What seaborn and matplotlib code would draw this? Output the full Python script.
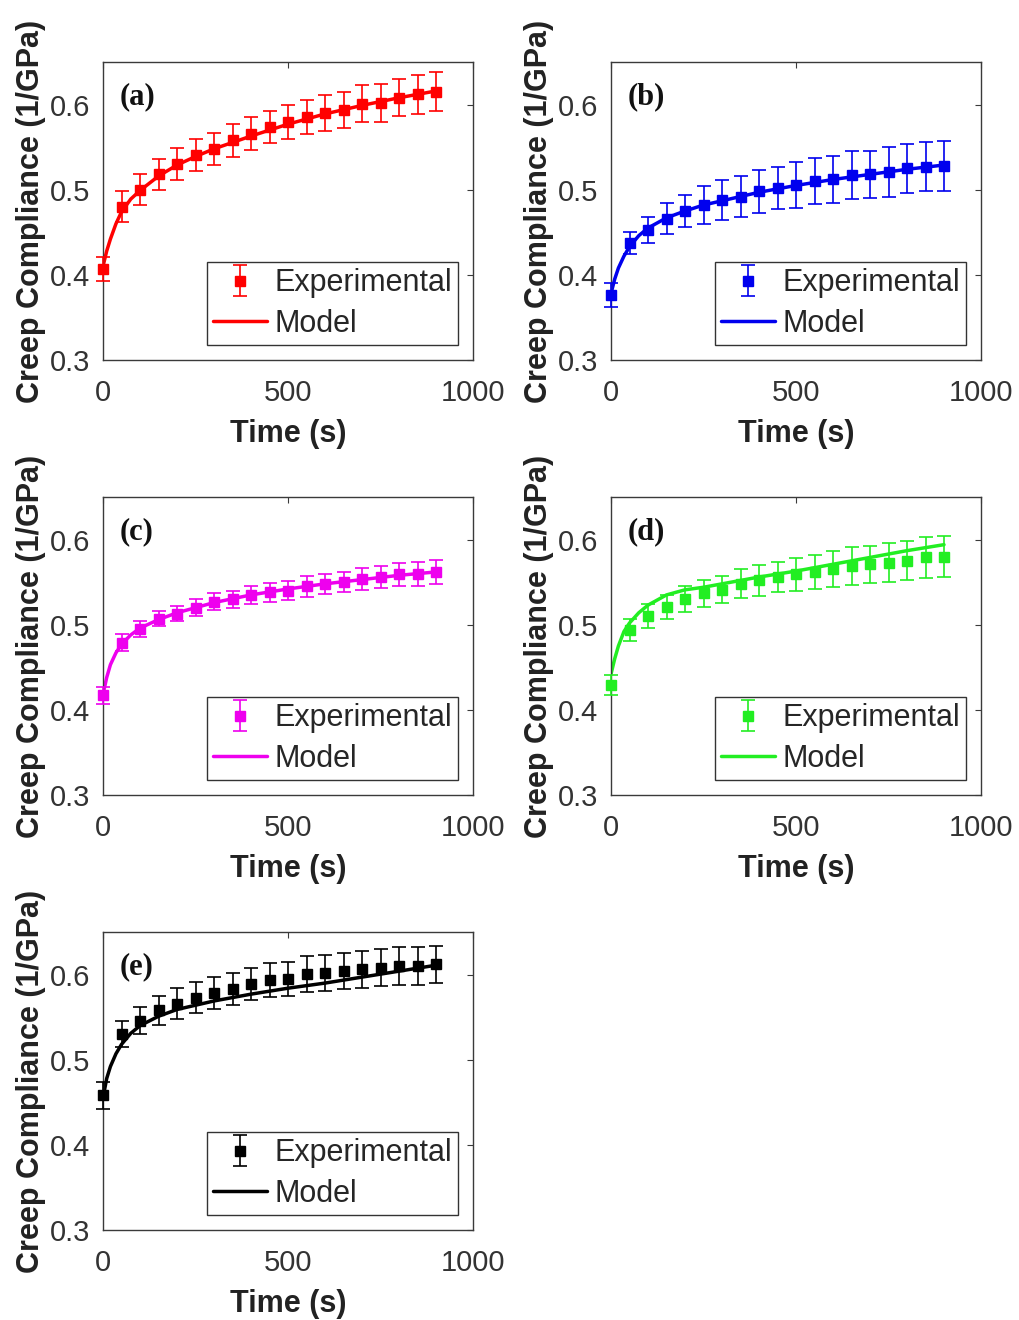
import numpy as np
import pandas as pd
import matplotlib
matplotlib.use("Agg")
import matplotlib.pyplot as plt
import seaborn as sns

# ---------------- data ----------------
time_exp = [0, 50, 100, 150, 200, 250, 300, 350, 400, 450, 500,
            550, 600, 650, 700, 750, 800, 850, 900]
time_model = [0, 10, 20, 35, 50, 75, 100, 150, 200, 250, 300,
              400, 500, 600, 700, 800, 900]

exp_a = [0.407, 0.480, 0.500, 0.518, 0.530, 0.541, 0.548, 0.558, 0.566, 0.574,
         0.580, 0.585, 0.590, 0.594, 0.601, 0.602, 0.608, 0.612, 0.615]
err_a = [0.014, 0.018, 0.018, 0.018, 0.019, 0.019, 0.019, 0.019, 0.019, 0.019,
         0.020, 0.020, 0.021, 0.021, 0.022, 0.022, 0.022, 0.023, 0.023]
model_a = [0.410, 0.428, 0.442, 0.460, 0.474, 0.489, 0.499, 0.516, 0.529, 0.539,
           0.548, 0.563, 0.577, 0.589, 0.599, 0.608, 0.616]

exp_b = [0.376, 0.437, 0.453, 0.466, 0.475, 0.482, 0.488, 0.492, 0.498, 0.502,
         0.506, 0.510, 0.512, 0.517, 0.518, 0.521, 0.525, 0.527, 0.528]
err_b = [0.014, 0.013, 0.015, 0.018, 0.019, 0.022, 0.023, 0.024, 0.025, 0.025,
         0.027, 0.027, 0.028, 0.028, 0.028, 0.029, 0.029, 0.029, 0.029]
model_b = [0.378, 0.395, 0.408, 0.422, 0.433, 0.446, 0.455, 0.467, 0.475, 0.482,
           0.487, 0.497, 0.505, 0.512, 0.518, 0.524, 0.529]

exp_c = [0.417, 0.479, 0.495, 0.507, 0.513, 0.520, 0.527, 0.530, 0.535, 0.538,
         0.540, 0.545, 0.548, 0.550, 0.554, 0.556, 0.559, 0.560, 0.562]
err_c = [0.010, 0.010, 0.009, 0.009, 0.009, 0.010, 0.010, 0.010, 0.011, 0.011,
         0.011, 0.012, 0.012, 0.012, 0.013, 0.013, 0.013, 0.014, 0.014]
model_c = [0.418, 0.438, 0.453, 0.467, 0.477, 0.488, 0.496, 0.506, 0.514, 0.520,
           0.526, 0.535, 0.542, 0.548, 0.553, 0.558, 0.562]

exp_d = [0.429, 0.494, 0.510, 0.521, 0.530, 0.537, 0.541, 0.548, 0.552, 0.556,
         0.559, 0.562, 0.565, 0.569, 0.571, 0.573, 0.575, 0.579, 0.580]
err_d = [0.012, 0.013, 0.014, 0.014, 0.015, 0.016, 0.016, 0.017, 0.018, 0.018,
         0.019, 0.020, 0.021, 0.022, 0.022, 0.023, 0.023, 0.024, 0.024]
model_d = [0.442, 0.460, 0.475, 0.492, 0.502, 0.514, 0.523, 0.535, 0.541, 0.544,
           0.548, 0.556, 0.563, 0.571, 0.579, 0.587, 0.594]

exp_e = [0.458, 0.530, 0.546, 0.558, 0.566, 0.573, 0.578, 0.583, 0.589, 0.594,
         0.595, 0.601, 0.602, 0.604, 0.606, 0.608, 0.610, 0.610, 0.612]
err_e = [0.016, 0.015, 0.016, 0.017, 0.018, 0.018, 0.019, 0.019, 0.019, 0.020,
         0.020, 0.021, 0.021, 0.021, 0.022, 0.022, 0.022, 0.022, 0.022]
model_e = [0.455, 0.478, 0.492, 0.507, 0.518, 0.531, 0.540, 0.551, 0.559, 0.564,
           0.569, 0.577, 0.584, 0.590, 0.597, 0.604, 0.611]

panel_labels = ["(a)", "(b)", "(c)", "(d)", "(e)"]
panel_colors = ["#ff0000", "#0000ee", "#ee00ee", "#22ee22", "#000000"]
exp_series = [exp_a, exp_b, exp_c, exp_d, exp_e]
err_series = [err_a, err_b, err_c, err_d, err_e]
model_series = [model_a, model_b, model_c, model_d, model_e]

x_ticks = [0, 500, 1000]
y_ticks = [0.3, 0.4, 0.5, 0.6]
x_label = "Time (s)"
y_label = "Creep Compliance (1/GPa)"

# ---------------- style ----------------
sns.set_theme(style="white")
plt.rcParams["font.family"] = ["Liberation Sans", "DejaVu Sans"]

W, H = 1019, 1320
fig = plt.figure(figsize=(W / 100, H / 100), dpi=100)

# axes boxes in pixels: (left, top, width, height)
lefts = [103, 611, 103, 611, 103]
tops = [62, 62, 497, 497, 932]
aw, ah = 370, 298

axis_col = "#3a3a3a"
for i in range(5):
    l, t = lefts[i], tops[i]
    ax = fig.add_axes([l / W, 1 - (t + ah) / H, aw / W, ah / H])
    col = panel_colors[i]

    eb = ax.errorbar(time_exp, exp_series[i], yerr=err_series[i], fmt="s",
                     color=col, ecolor=col, markersize=7, elinewidth=1.2,
                     capsize=5, capthick=1.2, label="Experimental", zorder=3)
    for art in eb.get_children():
        art.set_clip_on(False)
    df = pd.DataFrame({"t": time_model, "J": model_series[i]})
    sns.lineplot(data=df, x="t", y="J", ax=ax, color=col, linewidth=2.5,
                 label="Model", zorder=2)

    ax.set_xlim(0, 1000)
    ax.set_ylim(0.3, 0.65)
    ax.set_xticks(x_ticks)
    ax.set_yticks(y_ticks)
    ax.set_xticklabels([str(v) for v in x_ticks])
    ax.set_yticklabels([f"{v:.1f}" for v in y_ticks])
    ax.tick_params(direction="in", top=True, right=True, length=4,
                   width=0.8, color=axis_col, labelsize=21,
                   labelcolor="#333333")
    ax.tick_params(axis="x", pad=14)
    ax.tick_params(axis="y", pad=9)
    for sp in ax.spines.values():
        sp.set_color(axis_col)
        sp.set_linewidth(1.0)

    ax.set_xlabel(x_label, fontsize=22, fontweight="bold", labelpad=8,
                  color="#222222")
    ax.set_ylabel(y_label, fontsize=22, fontweight="bold", labelpad=3,
                  color="#222222")

    ax.text(0.045, 0.885, panel_labels[i], transform=ax.transAxes,
            fontfamily=["Liberation Serif", "DejaVu Serif"], fontweight="bold",
            fontsize=22, ha="left", va="center", color="#111111")

    handles, labels = ax.get_legend_handles_labels()
    order = [labels.index("Experimental"), labels.index("Model")]
    leg = ax.legend([handles[k] for k in order], [labels[k] for k in order],
                    loc="lower right", bbox_to_anchor=(0.96, 0.05),
                    borderaxespad=0, fontsize=22, frameon=True,
                    fancybox=False, framealpha=1, edgecolor="#333333",
                    handlelength=1.75, handletextpad=0.25, labelspacing=0.35,
                    borderpad=0.2)
    leg.get_frame().set_linewidth(1.0)

fig.savefig("out.png", dpi=100, facecolor="white")
